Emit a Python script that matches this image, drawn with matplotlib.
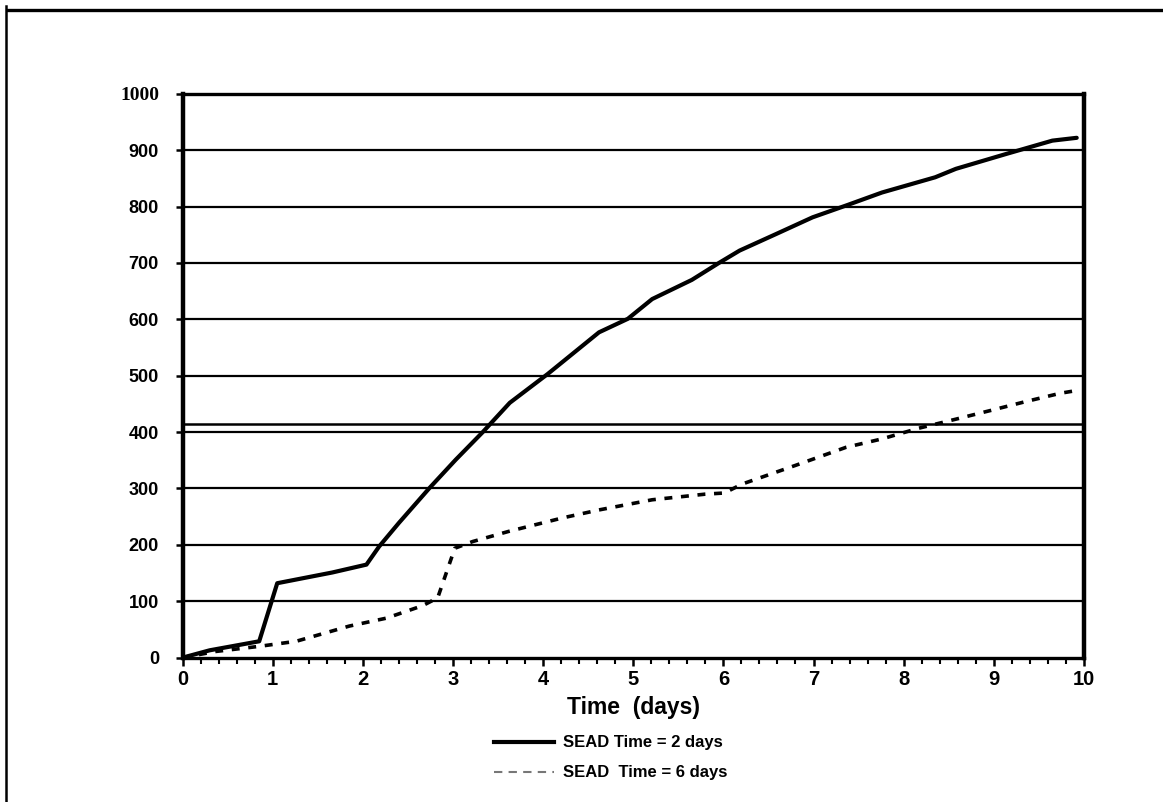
import numpy as np
import matplotlib
matplotlib.use("Agg")
from matplotlib import pyplot as plt
from matplotlib.lines import Line2D
from matplotlib.ticker import MultipleLocator

# values
days_2 = [0, 0.3, 0.85, 1.05, 1.66, 2.04, 2.18, 2.4, 2.74, 3.03, 3.33, 3.63, 4.05,
          4.62, 4.94, 5.21, 5.65, 5.95, 6.18, 6.58, 6.99, 7.38, 7.76, 8.35, 8.58,
          9.13, 9.65, 9.92]
vals_2 = [0, 13, 29, 132, 151, 165, 197, 239, 301, 351, 400, 452, 503,
          577, 601, 636, 670, 700, 722, 751, 781, 803, 825, 852, 867,
          893, 917, 922]

days_6 = [0, 0.37, 0.85, 1.26, 1.85, 2.26, 2.66, 2.83, 3.02, 3.22, 3.62, 4.22,
          4.62, 5.21, 5.8, 6.01, 6.21, 6.8, 7.36, 7.76, 8.17, 8.58, 8.98, 9.35,
          9.74, 9.89]
vals_6 = [0, 11, 20, 29, 56, 70, 92, 106, 194, 206, 224, 248,
          262, 280, 290, 292, 308, 341, 373, 388, 407, 423, 439, 454,
          469, 473]

ref_level = 415
x_ticks = list(range(0, 11))
y_ticks = list(range(0, 1001, 100))
label_2 = "SEAD Time = 2 days"
label_6 = "SEAD  Time = 6 days"

plt.rcParams['font.family'] = ['Liberation Sans', 'DejaVu Sans']

fig = plt.figure(figsize=(11.63, 8.02), dpi=100)
ax = fig.add_axes([0.157, 0.180, 0.775, 0.703])

for v in y_ticks[1:-1]:
    ax.axhline(v, color='black', lw=1.6, zorder=1)
ax.axhline(ref_level, color='black', lw=1.8, zorder=1)

ax.plot(days_2, vals_2, color='black', lw=3.0, solid_capstyle='round', zorder=3)
ax.plot(days_6, vals_6, color='black', lw=2.6, dashes=(2.2, 2.4), zorder=3)

ax.set_xlim(0, 10)
ax.set_ylim(0, 1000)
ax.set_xticks(x_ticks)
ax.xaxis.set_minor_locator(MultipleLocator(0.2))
ax.set_yticks(y_ticks)
ax.set_xticklabels([str(t) for t in x_ticks], fontsize=14.5, fontweight='bold')
ylabels = ax.set_yticklabels([str(t) for t in y_ticks], fontsize=13, fontweight='bold')
ylabels[-1].set_family('Liberation Serif')
ylabels[-1].set_fontsize(14)

ax.tick_params(axis='x', which='major', direction='out', length=6, width=1.8, pad=3)
ax.tick_params(axis='x', which='minor', direction='out', length=4, width=1.5)
ax.tick_params(axis='y', which='major', direction='out', length=5, width=1.8, pad=12)

for side in ['left', 'right']:
    ax.spines[side].set_linewidth(3.2)
for side in ['top', 'bottom']:
    ax.spines[side].set_linewidth(2.4)

ax.set_xlabel("Time  (days)", fontsize=16.5, fontweight='bold', labelpad=5)

handles = [Line2D([], [], color='black', lw=3.0),
           Line2D([], [], color='#777777', lw=1.5, dashes=(4, 3))]
leg = fig.legend(handles, [label_2, label_6], loc='center',
                 bbox_to_anchor=(0.525, 0.055), frameon=False,
                 prop={'weight': 'bold', 'size': 12}, handlelength=3.6,
                 handletextpad=0.5, labelspacing=0.9)

# outer frame of the original page
fig.add_artist(Line2D([0.007, 1.0], [0.988, 0.988], color='black', lw=2.4,
                      transform=fig.transFigure))
fig.add_artist(Line2D([0.005, 0.005], [0.0, 0.993], color='black', lw=1.8,
                      transform=fig.transFigure))

fig.savefig("out.png", dpi=100, facecolor='white')
